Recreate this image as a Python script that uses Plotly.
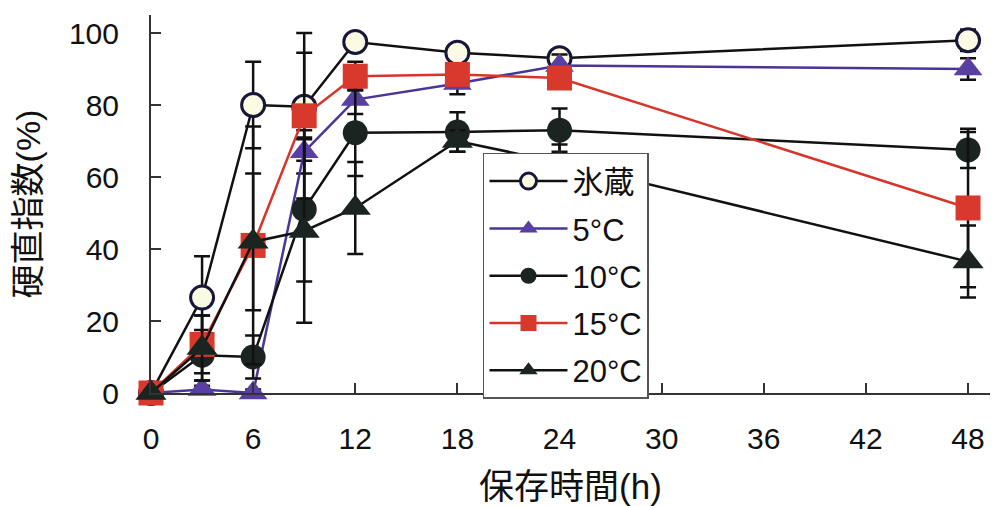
import plotly.graph_objects as go

# ---- data ----
times = [0, 3, 6, 9, 12, 18, 24, 48]

ice = [0, 26.5, 80, 79.5, 97.5, 94.5, 93, 98]
ice_err = [0, 11.5, 12, 15, 2, 2, 2, 3]

c5 = [0, 1, 0, 67, 81.5, 86, 91, 90]
c5_err = [0, 1, 1, 6, 4, 3, 3, 3]

c10 = [0, 10.5, 10, 51, 72.3, 72.5, 73, 67.5]
c10_err = [0, 7, 6, 20, 12, 5.5, 6, 5]

c15 = [0, 13.5, 41, 77, 88, 88.5, 87.5, 51.4]
c15_err = [0, 8, 33, 23, 4, 3, 3, 22]

c20 = [0, 12.5, 42, 45, 51.4, 70, 64, 36.5]
c20_err = [0, 9, 19, 25.5, 12.8, 3, 5, 10]

names = ["氷蔵", "5°C", "10°C", "15°C", "20°C"]
x_ticks = [0, 6, 12, 18, 24, 30, 36, 42, 48]
y_ticks = [0, 20, 40, 60, 80, 100]

FONT = "Liberation Sans, Arial, Noto Sans CJK JP, sans-serif"
DARK = "#1b2420"

styles = [
    dict(line="#111111", sym="circle", size=23, fill="#fbfbe4", edge="#17173a", ew=3),
    dict(line="#4b3596", sym="triangle-up", size=25, fill="#5a3fa2", edge="#5a3fa2", ew=0),
    dict(line="#111111", sym="circle", size=25, fill=DARK, edge=DARK, ew=0),
    dict(line="#d8352a", sym="square", size=25, fill="#d8392c", edge="#d8392c", ew=0),
    dict(line="#111111", sym="triangle-up", size=27, fill=DARK, edge=DARK, ew=0),
]
series = [(ice, ice_err), (c5, c5_err), (c10, c10_err), (c15, c15_err), (c20, c20_err)]

fig = go.Figure()
for i, ((ys, es), st, nm) in enumerate(zip(series, styles, names)):
    fig.add_trace(go.Scatter(
        x=times, y=ys, name=nm, mode="lines+markers",
        legendgroup=f"g{i}",
        line=dict(color=st["line"], width=2.5),
        marker=dict(symbol=st["sym"], size=st["size"], color=st["fill"],
                    line=dict(color=st["edge"], width=st["ew"])),
        error_y=dict(type="data", array=es, visible=True, color="#111111",
                     thickness=2.5, width=8),
        cliponaxis=False,
    ))

fig.update_layout(
    width=994, height=506,
    margin=dict(l=151, r=4, t=15, b=113),
    paper_bgcolor="white", plot_bgcolor="white",
    font=dict(family=FONT, size=28, color="#111111"),
    showlegend=True,
    legend=dict(
        x=0.3957, y=0.635, xanchor="left", yanchor="top",
        bgcolor="white", bordercolor="#555555", borderwidth=1.5,
        font=dict(family=FONT, size=31, color="#111111"),
        itemwidth=78, tracegroupgap=4,
        itemsizing="trace",
    ),
    xaxis=dict(
        range=[0, 49.29], tickvals=x_ticks, ticktext=[str(v) for v in x_ticks],
        ticks="inside", ticklen=10, tickwidth=1.5, tickcolor="#333333",
        showline=True, linecolor="#333333", linewidth=2,
        showgrid=False, zeroline=False, ticklabelstandoff=18,
        tickfont=dict(size=30), automargin=False,
        title=dict(text="保存時間(h)", font=dict(size=35), standoff=24),
    ),
    yaxis=dict(
        range=[0, 105], tickvals=y_ticks, ticktext=[str(v) for v in y_ticks],
        ticks="inside", ticklen=10, tickwidth=1.5, tickcolor="#333333",
        showline=True, linecolor="#333333", linewidth=2,
        showgrid=False, zeroline=False, ticklabelstandoff=24,
        tickfont=dict(size=30), automargin=False,
        title=dict(text="硬直指数(%)", font=dict(size=34), standoff=18),
    ),
)

fig.write_html("out.html", config={"displayModeBar": False},
               post_script="document.body.style.margin='0';")
